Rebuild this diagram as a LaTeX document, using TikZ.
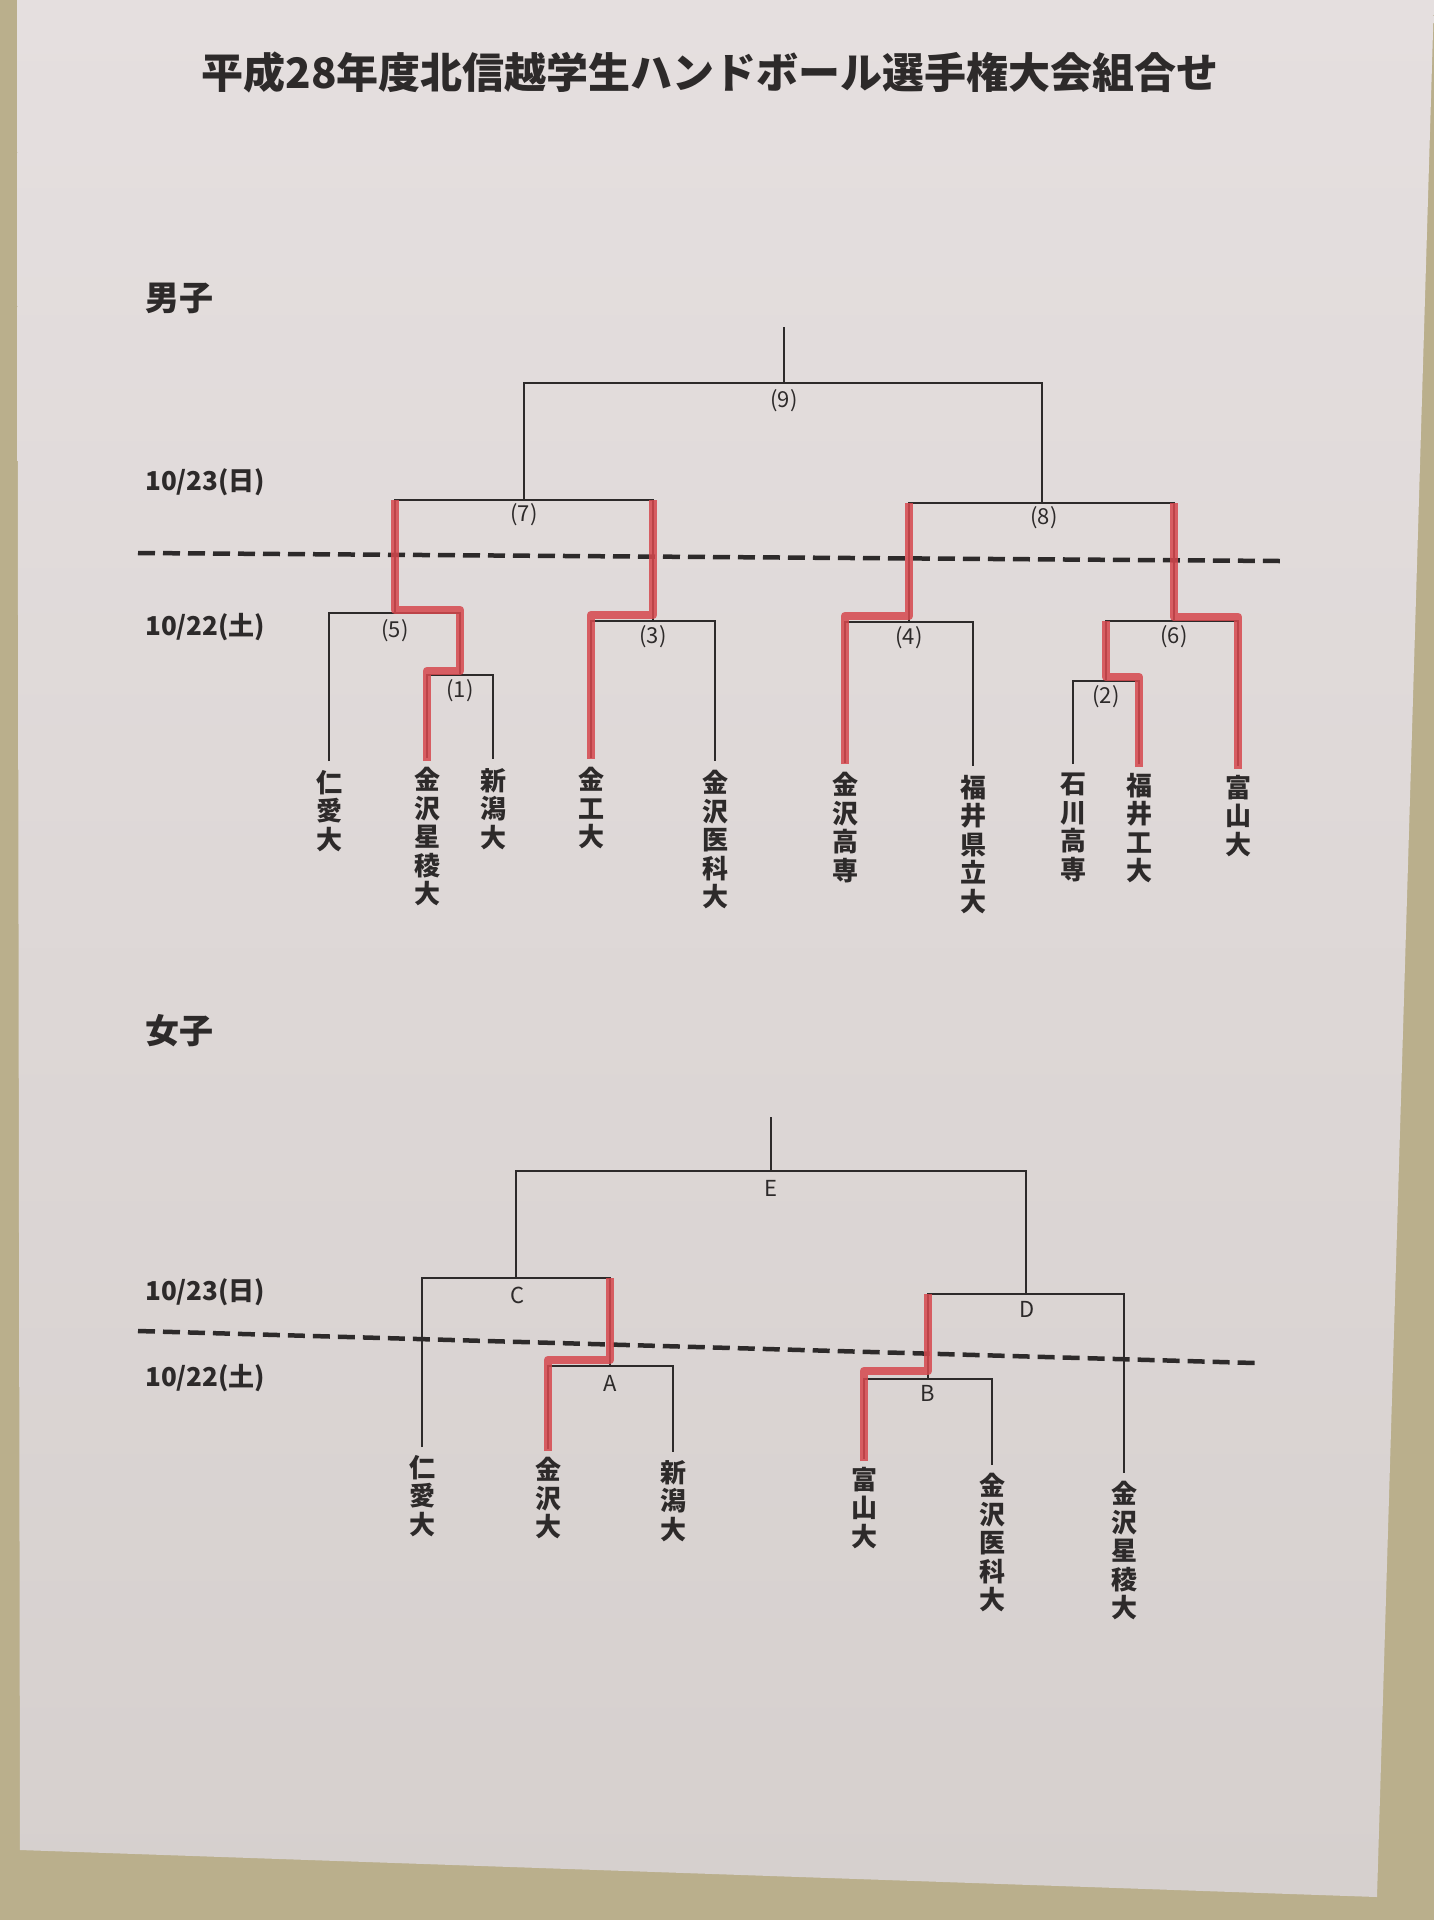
\documentclass[tikz,border=0pt]{standalone}
\usepackage{fontspec}
\setmainfont{Noto Sans CJK JP}
\definecolor{wall}{RGB}{186,175,140}
\definecolor{papertop}{RGB}{229,223,223}
\definecolor{paperbot}{RGB}{214,208,206}
\definecolor{ink}{RGB}{45,42,42}
\definecolor{marker}{RGB}{214,72,78}
\begin{document}
\begin{tikzpicture}[x=1pt,y=-1pt,
  br/.style={draw=ink, line width=1.9pt},
  win/.style={draw=marker, line width=8.5pt, opacity=0.85, line join=round},
  daydash/.style={draw=ink, line width=4.5pt, dash pattern=on 17pt off 8pt},
  team/.style={inner sep=0pt, anchor=north, align=center, text=ink, font=\fontsize{26}{28.5}\selectfont\bfseries},
  lab/.style={inner sep=0pt, text=ink, font=\fontsize{22}{22}\selectfont},
  datelab/.style={inner sep=0pt, anchor=west, text=ink, font=\fontsize{26}{26}\selectfont\bfseries},
  sect/.style={inner sep=0pt, anchor=west, text=ink, font=\fontsize{34}{34}\selectfont\bfseries}]
\useasboundingbox (0,0) rectangle (1434,1920);
\fill[wall] (0,0) rectangle (1434,1920);
\shade[top color=papertop, bottom color=paperbot] (17,-2) -- (1434,-2) -- (1377,1897) -- (20,1850) -- cycle;

% title
\node[inner sep=0pt, text=ink, font=\fontsize{42}{42}\selectfont\bfseries] (title) at (710,72) {平成28年度北信越学生ハンドボール選手権大会組合せ};

% ===== men =====
\node[sect] (men) at (145,298) {男子};
\node[datelab] (md2) at (145,482) {10/23(日)};
\node[datelab] (md1) at (145,627) {10/22(土)};
\coordinate (mdashL) at (138,553);
\coordinate (mdashR) at (1280,561);
\draw[daydash] (mdashL) -- (mdashR);

\node[team] (T1) at (329,770) {仁\\愛\\大};
\node[team] (T2) at (427,767) {金\\沢\\星\\稜\\大};
\node[team] (T3) at (493,768) {新\\潟\\大};
\node[team] (T4) at (591,767) {金\\工\\大};
\node[team] (T5) at (715,770) {金\\沢\\医\\科\\大};
\node[team] (T6) at (845,772) {金\\沢\\高\\専};
\node[team] (T7) at (973,775) {福\\井\\県\\立\\大};
\node[team] (T8) at (1073,773) {石\\川\\高\\専};
\node[team] (T9) at (1139,773) {福\\井\\工\\大};
\node[team] (T10) at (1238,775) {富\\山\\大};

% match lines
\coordinate (M1L) at (427,675); \coordinate (M1R) at (493,675); \coordinate (M1C) at (460,675);
\coordinate (M5L) at (329,613); \coordinate (M5R) at (460,613); \coordinate (M5C) at (395,613);
\coordinate (M3L) at (591,621); \coordinate (M3R) at (715,621); \coordinate (M3C) at (653,621);
\coordinate (M7L) at (395,500); \coordinate (M7R) at (653,500); \coordinate (M7C) at (524,500);
\coordinate (M4L) at (845,622); \coordinate (M4R) at (973,622); \coordinate (M4C) at (909,622);
\coordinate (M2L) at (1073,681); \coordinate (M2R) at (1139,681); \coordinate (M2C) at (1106,681);
\coordinate (M6L) at (1106,621); \coordinate (M6R) at (1238,621); \coordinate (M6C) at (1174,621);
\coordinate (M8L) at (909,503); \coordinate (M8R) at (1174,503); \coordinate (M8C) at (1042,503);
\coordinate (M9L) at (524,383); \coordinate (M9R) at (1042,383); \coordinate (M9C) at (784,383);
\coordinate (M9T) at (784,327);

\draw[br] ([yshift=9pt]T2.north) -- (M1L) -- (M1R) -- ([yshift=9pt]T3.north);
\draw[br] ([yshift=9pt]T1.north) -- (M5L) -- (M5R) -- (M1C);
\draw[br] ([yshift=9pt]T4.north) -- (M3L) -- (M3R) -- ([yshift=9pt]T5.north);
\draw[br] (M5C) -- (M7L) -- (M7R) -- (M3C);
\draw[br] ([yshift=9pt]T6.north) -- (M4L) -- (M4R) -- ([yshift=9pt]T7.north);
\draw[br] ([yshift=9pt]T8.north) -- (M2L) -- (M2R) -- ([yshift=9pt]T9.north);
\draw[br] (M2C) -- (M6L) -- (M6R) -- ([yshift=9pt]T10.north);
\draw[br] (M4C) -- (M8L) -- (M8R) -- (M6C);
\draw[br] (M7C) -- (M9L) -- (M9R) -- (M8C);
\draw[br] (M9C) -- (M9T);

\node[lab] (L1) at (460,691) {(1)};
\node[lab] (L5) at (395,631) {(5)};
\node[lab] (L3) at (653,637) {(3)};
\node[lab] (L7) at (524,515) {(7)};
\node[lab] (L4) at (909,638) {(4)};
\node[lab] (L2) at (1106,697) {(2)};
\node[lab] (L6) at (1174,637) {(6)};
\node[lab] (L8) at (1044,518) {(8)};
\node[lab] (L9) at (784,401) {(9)};

% winners (men)
\draw[win] ([yshift=6pt]T2.north) |- ([yshift=4pt]M1C) |- ([yshift=3pt]M5C) -- (M7L);
\draw[win] ([yshift=8pt]T4.north) |- ([yshift=6pt]M3C) -- (M7R);
\draw[win] ([yshift=8pt]T6.north) |- ([yshift=6pt]M4C) -- (M8L);
\draw[win] ([yshift=6pt]T9.north) |- ([yshift=4pt]M2C) -- (M6L);
\draw[win] ([yshift=6pt]T10.north) |- ([yshift=4pt]M6C) -- (M8R);

% ===== women =====
\node[sect] (women) at (145,1031) {女子};
\node[datelab] (wd2) at (145,1292) {10/23(日)};
\node[datelab] (wd1) at (145,1378) {10/22(土)};
\coordinate (wdashL) at (138,1331);
\coordinate (wdashR) at (1255,1363);
\draw[daydash] (wdashL) -- (wdashR);

\node[team] (W1) at (422,1455) {仁\\愛\\大};
\node[team] (W2) at (548,1457) {金\\沢\\大};
\node[team] (W3) at (673,1460) {新\\潟\\大};
\node[team] (W4) at (864,1467) {富\\山\\大};
\node[team] (W5) at (992,1473) {金\\沢\\医\\科\\大};
\node[team] (W6) at (1124,1481) {金\\沢\\星\\稜\\大};

\coordinate (AL) at (548,1366); \coordinate (AR) at (673,1366); \coordinate (AC) at (610,1366);
\coordinate (CL) at (422,1278); \coordinate (CR) at (610,1278); \coordinate (CC) at (516,1278);
\coordinate (BL) at (864,1379); \coordinate (BR) at (992,1379); \coordinate (BC) at (928,1379);
\coordinate (DL) at (928,1294); \coordinate (DR) at (1124,1294); \coordinate (DC) at (1026,1294);
\coordinate (EL) at (516,1171); \coordinate (ER) at (1026,1171); \coordinate (EC) at (771,1171);
\coordinate (ET) at (771,1117);

\draw[br] ([yshift=8pt]W2.north) -- (AL) -- (AR) -- ([yshift=8pt]W3.north);
\draw[br] ([yshift=8pt]W1.north) -- (CL) -- (CR) -- (AC);
\draw[br] ([yshift=8pt]W4.north) -- (BL) -- (BR) -- ([yshift=8pt]W5.north);
\draw[br] (BC) -- (DL) -- (DR) -- ([yshift=8pt]W6.north);
\draw[br] (CC) -- (EL) -- (ER) -- (DC);
\draw[br] (EC) -- (ET);

\node[lab] (LA) at (610,1383) {A};
\node[lab] (LC) at (518,1295) {C};
\node[lab] (LB) at (928,1393) {B};
\node[lab] (LD) at (1027,1309) {D};
\node[lab] (LE) at (771,1188) {E};

% winners (women)
\draw[win] ([yshift=6pt]W2.north) |- ([yshift=6pt]AC) -- (CR);
\draw[win] ([yshift=6pt]W4.north) |- ([yshift=8pt]BC) -- (DL);
\end{tikzpicture}
\end{document}
